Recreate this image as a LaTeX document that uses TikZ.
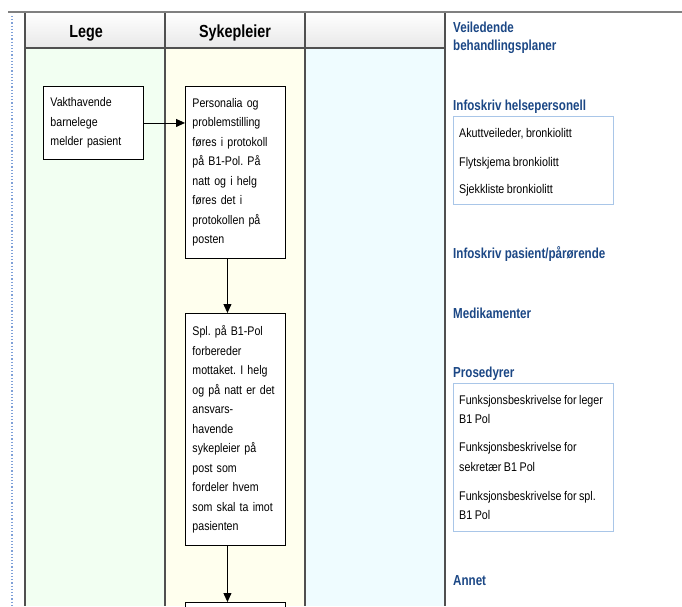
\documentclass[tikz,border=0pt]{standalone}
\usepackage{fontspec}
\setmainfont{Liberation Sans}
\newfontfamily\headfont[FakeStretch=0.82]{Liberation Sans Bold}
\newfontfamily\linkfont[FakeStretch=0.8]{Liberation Sans Bold}
\newfontfamily\bodyfont[FakeStretch=0.85,WordSpace=0.85]{Liberation Sans}
\usetikzlibrary{arrows.meta}
\frenchspacing

\definecolor{laneline}{HTML}{505050}
\definecolor{topline}{HTML}{808080}
\definecolor{legefill}{HTML}{F2FFF2}
\definecolor{sykfill}{HTML}{FFFFEE}
\definecolor{thirdfill}{HTML}{EFFCFF}
\definecolor{linkblue}{HTML}{1B4785}
\definecolor{listframe}{HTML}{A9C6E8}
\definecolor{dotblue}{HTML}{7FA0D8}

\tikzset{
  lanerule/.style={draw=laneline, line width=1.5pt},
  lanehead/.style={font=\headfont\fontsize{17.5}{19}\selectfont, anchor=base, inner sep=0pt},
  stepbox/.style={draw=black, line width=0.9pt, fill=white, anchor=north west,
    align=left, text width=86pt, inner xsep=7pt, inner ysep=0pt,
    font=\bodyfont\fontsize{12.5}{19.5}\selectfont},
  flow/.style={-{Triangle[length=9pt,width=8pt]}, line width=0.9pt},
  linkhead/.style={font=\linkfont\fontsize{14.5}{17}\selectfont, text=linkblue,
    anchor=base west, inner sep=0pt},
  listbox/.style={draw=listframe, line width=1pt, fill=white, anchor=north west,
    minimum width=160pt, inner sep=0pt},
  listitem/.style={font=\bodyfont\fontsize{12.6}{19}\selectfont, anchor=base west, inner sep=0pt},
}

\begin{document}
\begin{tikzpicture}[x=1pt,y=-1pt]
\useasboundingbox (0,0) rectangle (682,606);
\clip (0,0) rectangle (682,606);

% swimlane backgrounds
\fill[legefill]  (25,48)  rectangle (165,606);
\fill[sykfill]   (165,48) rectangle (305,606);
\fill[thirdfill] (305,48) rectangle (445,606);
\shade[top color=white, bottom color=black!9] (25,12) rectangle (445,48);

% lane rules
\draw[lanerule] (25,12) -- (25,606);
\draw[lanerule] (165,12) -- (165,606);
\draw[lanerule] (305,12) -- (305,606);
\draw[lanerule] (445,12) -- (445,606);
\draw[lanerule] (25,48) -- (445,48);
\draw[topline, line width=2.5pt] (8,12) -- (682,12);
\draw[dotblue, dotted, line width=1.2pt] (12,16) -- (12,606);

% lane titles
\node[lanehead] (hlege) at (86,37) {Lege};
\node[lanehead] (hsyk)  at (235,37) {Sykepleier};

% process steps
\node[stepbox, minimum height=73pt] (vakt) at (43,86)
  {Vakthavende\\barnelege\\melder pasient};
\node[stepbox, minimum height=172pt] (pers) at (185,86)
  {Personalia og\\problemstilling\\føres i protokoll\\på B1-Pol. På\\natt og i helg\\føres det i\\protokollen på\\posten};
\node[stepbox, minimum height=232pt] (spl) at (185,313)
  {Spl. på B1-Pol\\forbereder\\mottaket. I helg\\og på natt er det\\ansvars-\\havende\\sykepleier på\\post som\\fordeler hvem\\som skal ta imot\\pasienten};
\node[stepbox, minimum height=40pt] (next) at (185,602) {};

\draw[flow] (vakt.east) -- (vakt.east -| pers.west);
\draw[flow] ([xshift=-8pt]pers.south) -- ([xshift=-8pt]spl.north);
\draw[flow] ([xshift=-8pt]spl.south) -- ([xshift=-8pt]next.north);

% link column
\node[linkhead] (veil1) at (453,32) {Veiledende};
\node[linkhead] (veil2) at (453,50) {behandlingsplaner};

\node[linkhead] (infohp) at (453,110.5) {Infoskriv helsepersonell};
\node[listbox, minimum height=88pt] (infolist) at (453,116) {};
\node[listitem] (i1) at (459,137) {Akuttveileder, bronkiolitt};
\node[listitem] (i2) at (459,166) {Flytskjema bronkiolitt};
\node[listitem] (i3) at (459,193) {Sjekkliste bronkiolitt};

\node[linkhead] (infopp) at (453,258) {Infoskriv pasient/pårørende};
\node[linkhead] (medi) at (453,318) {Medikamenter};

\node[linkhead] (pros) at (453,377) {Prosedyrer};
\node[listbox, minimum height=148pt] (proslist) at (453,383) {};
\node[listitem] (p1a) at (459,404) {Funksjonsbeskrivelse for leger};
\node[listitem] (p1b) at (459,423.5) {B1 Pol};
\node[listitem] (p2a) at (459,451.5) {Funksjonsbeskrivelse for};
\node[listitem] (p2b) at (459,471) {sekretær B1 Pol};
\node[listitem] (p3a) at (459,500) {Funksjonsbeskrivelse for spl.};
\node[listitem] (p3b) at (459,519) {B1 Pol};

\node[linkhead] (annet) at (453,585) {Annet};
\end{tikzpicture}
\end{document}
